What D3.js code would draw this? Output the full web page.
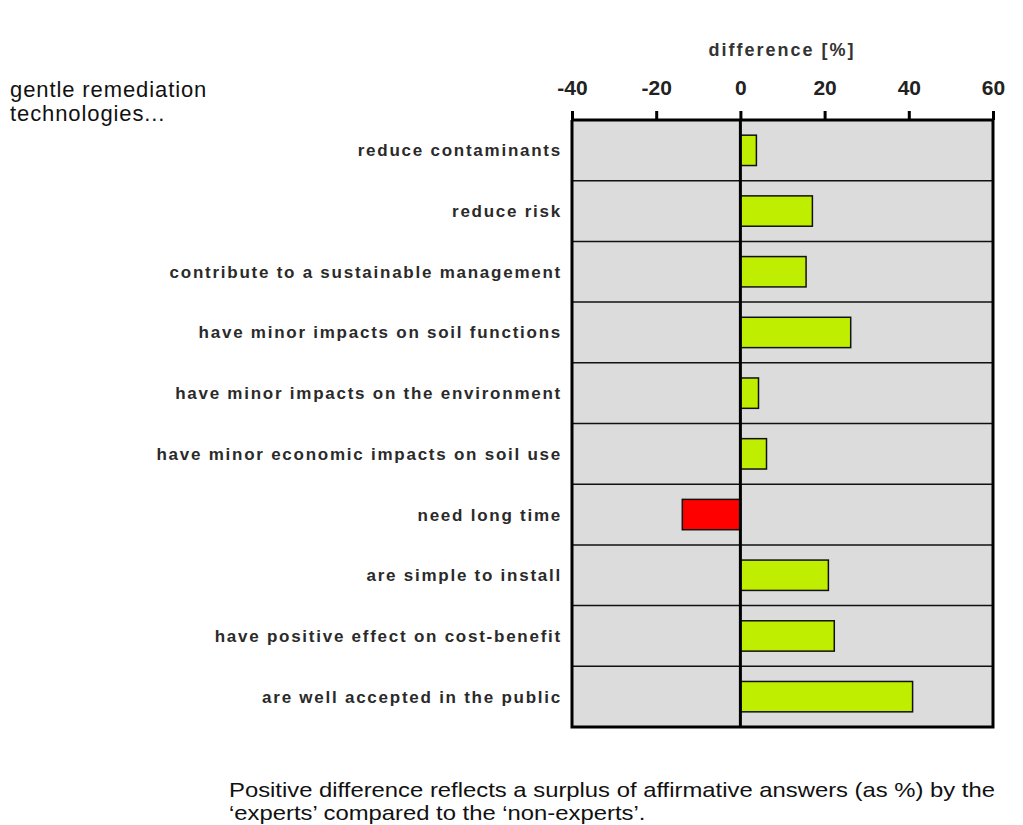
<!DOCTYPE html>
<html>
<head>
<meta charset="utf-8">
<script src="https://cdn.jsdelivr.net/npm/d3@7"></script>
<style>
  body { margin: 0; background: #fff; }
  svg { display: block; }
</style>
</head>
<body>
<div id="chart"></div>
<script>
// data
const categories = [
  "reduce contaminants",
  "reduce risk",
  "contribute to a sustainable management",
  "have minor impacts on soil functions",
  "have minor impacts on the environment",
  "have minor economic impacts on soil use",
  "need long time",
  "are simple to install",
  "have positive effect on cost-benefit",
  "are well accepted in the public"
];
const differences = [3.8, 17.1, 15.6, 26.2, 4.3, 6.2, -13.8, 20.9, 22.3, 40.9];
const tickValues = [-40, -20, 0, 20, 40, 60];
const titleLines = ["gentle remediation", "technologies..."];
const axisTitle = "difference [%]";
const footLines = [
  "Positive difference reflects a surplus of affirmative answers (as %) by the",
  "\u2018experts\u2019 compared to the \u2018non-experts\u2019."
];

const width = 1023, height = 825;
const plotLeft = 572, plotRight = 993, plotTop = 120, plotBottom = 727;
const font = "Liberation Sans, Arial, sans-serif";

const svg = d3.select("#chart").append("svg")
    .attr("width", width)
    .attr("height", height);

// scales
const x = d3.scaleLinear().domain([-40, 60]).range([plotLeft, plotRight]);
const y = d3.scaleBand().domain(categories).range([plotTop, plotBottom])
    .paddingInner(0.5).paddingOuter(0.25);

// plot background
svg.append("rect")
    .attr("x", plotLeft).attr("y", plotTop)
    .attr("width", plotRight - plotLeft).attr("height", plotBottom - plotTop)
    .attr("fill", "#dcdcdc");

// row separators
const step = y.step();
svg.append("g").selectAll("line")
    .data(d3.range(1, categories.length))
    .join("line")
    .attr("x1", plotLeft).attr("x2", plotRight)
    .attr("y1", i => plotTop + i * step).attr("y2", i => plotTop + i * step)
    .attr("stroke", "#111").attr("stroke-width", 1.5);

// bars
svg.append("g").selectAll("rect")
    .data(differences)
    .join("rect")
    .attr("x", d => Math.min(x(0), x(d)))
    .attr("width", d => Math.abs(x(d) - x(0)))
    .attr("y", (d, i) => y(categories[i]))
    .attr("height", y.bandwidth())
    .attr("fill", d => d < 0 ? "#ff0000" : "#c0ee00")
    .attr("stroke", "#111")
    .attr("stroke-width", 1.5);

// zero line
svg.append("line")
    .attr("x1", x(0)).attr("x2", x(0))
    .attr("y1", plotTop).attr("y2", plotBottom)
    .attr("stroke", "#000").attr("stroke-width", 3);

// frame left/right/bottom
svg.append("path")
    .attr("d", `M${plotLeft},${plotTop}V${plotBottom}H${plotRight}V${plotTop}`)
    .attr("fill", "none")
    .attr("stroke", "#000").attr("stroke-width", 3);

// top axis
const axis = svg.append("g")
    .attr("transform", `translate(0,${plotTop})`)
    .call(d3.axisTop(x).tickValues(tickValues).tickSize(9).tickPadding(16)
        .tickFormat(d => d));
axis.select(".domain").attr("stroke-width", 3).attr("d", `M${plotLeft},0H${plotRight}`);
axis.selectAll(".tick line").attr("stroke-width", 3);
axis.selectAll(".tick text")
    .attr("font-family", font)
    .attr("font-size", 21)
    .attr("font-weight", "bold")
    .attr("fill", "#222");

svg.append("text")
    .attr("x", 782).attr("y", 56)
    .attr("text-anchor", "middle")
    .attr("font-family", font)
    .attr("font-size", 18)
    .attr("font-weight", "bold")
    .attr("letter-spacing", 2)
    .attr("fill", "#333")
    .text(axisTitle);

// category labels
svg.append("g").selectAll("text")
    .data(categories)
    .join("text")
    .attr("x", 562)
    .attr("y", d => y(d) + y.bandwidth() / 2)
    .attr("dy", "0.35em")
    .attr("text-anchor", "end")
    .attr("font-family", font)
    .attr("font-size", 17)
    .attr("font-weight", "bold")
    .attr("letter-spacing", 1.75)
    .attr("fill", "#2a2a2a")
    .text(d => d);

// chart title
svg.append("g").selectAll("text")
    .data(titleLines)
    .join("text")
    .attr("x", 10)
    .attr("y", (d, i) => 97 + i * 24)
    .attr("font-family", font)
    .attr("font-size", 22)
    .attr("letter-spacing", 0.9)
    .attr("fill", "#111")
    .text(d => d);

// footnote, squeezed a little to the reference width
const foot = svg.append("g").selectAll("text")
    .data(footLines)
    .join("text")
    .attr("x", 229)
    .attr("y", (d, i) => 797 + i * 23)
    .attr("font-family", font)
    .attr("font-size", 21)
    .attr("fill", "#111")
    .text(d => d);
const natural = foot.nodes().map(n => n.getComputedTextLength());
const squeeze = 766 / natural[0];
foot.attr("textLength", (d, i) => natural[i] * squeeze)
    .attr("lengthAdjust", "spacingAndGlyphs");
</script>
</body>
</html>
